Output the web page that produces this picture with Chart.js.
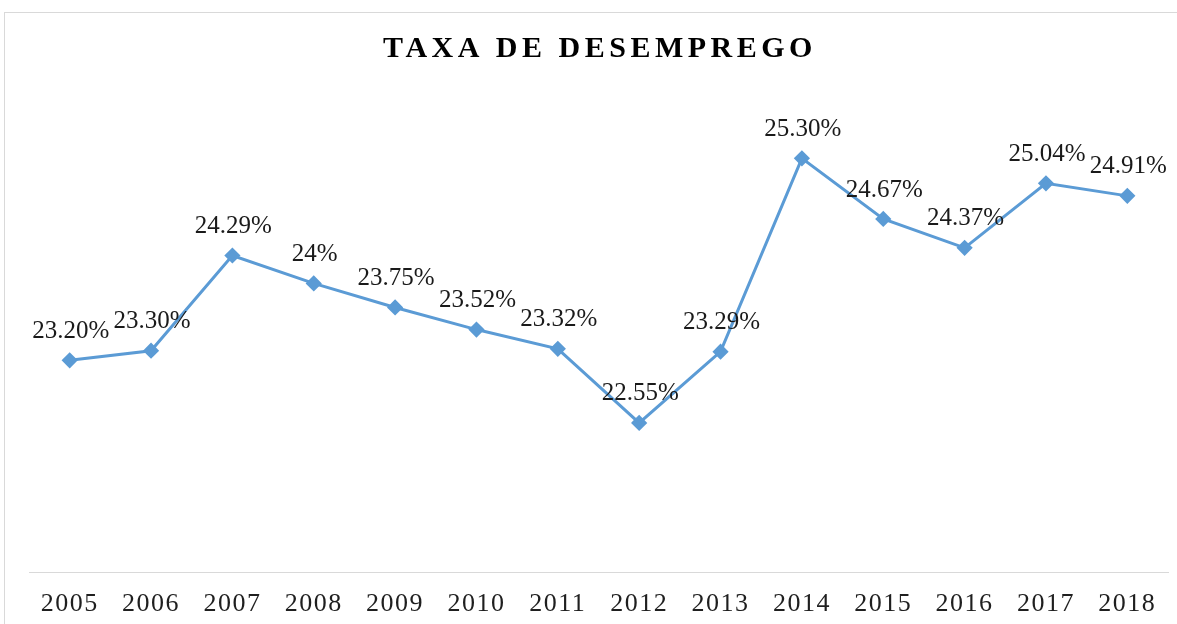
<!DOCTYPE html>
<html>
<head>
<meta charset="utf-8">
<script src="https://cdn.jsdelivr.net/npm/chart.js@4.4.1/dist/chart.umd.min.js"></script>
<style>
  html, body { margin: 0; padding: 0; background: #fff; }
  #wrap { width: 1177px; height: 624px; position: relative; }
</style>
</head>
<body>
<div id="wrap"><canvas id="c" width="1177" height="624"></canvas></div>
<script>
const titleText = "TAXA DE DESEMPREGO";
const years = ["2005","2006","2007","2008","2009","2010","2011","2012","2013","2014","2015","2016","2017","2018"];
const rates = [23.20, 23.30, 24.29, 24.00, 23.75, 23.52, 23.32, 22.55, 23.29, 25.30, 24.67, 24.37, 25.04, 24.91];
const rateLabels = ["23.20%","23.30%","24.29%","24%","23.75%","23.52%","23.32%","22.55%","23.29%","25.30%","24.67%","24.37%","25.04%","24.91%"];

const SERIF = '"Liberation Serif", "Times New Roman", serif';

const framePlugin = {
  id: 'frame',
  beforeDraw(chart) {
    const ctx = chart.ctx;
    ctx.save();
    ctx.strokeStyle = '#d9d9d9';
    ctx.lineWidth = 1;
    ctx.strokeRect(4.5, 12.5, 1400, 1000);
    ctx.restore();
    ctx.letterSpacing = '1.5px';
  },
  beforeDatasetsDraw(chart) {
    chart.ctx.letterSpacing = '0px';
  },
  afterDatasetsDraw(chart) {
    const ctx = chart.ctx;
    const meta = chart.getDatasetMeta(0);
    ctx.save();
    ctx.letterSpacing = '0px';
    ctx.font = '25px ' + SERIF;
    ctx.fillStyle = '#1a1a1a';
    ctx.textAlign = 'center';
    ctx.textBaseline = 'middle';
    meta.data.forEach((pt, i) => {
      ctx.fillText(rateLabels[i], pt.x + 1, pt.y - 29);
    });
    ctx.restore();
  },
  afterDraw(chart) {
    const ctx = chart.ctx;
    ctx.save();
    ctx.letterSpacing = '4.5px';
    ctx.font = 'bold 30px ' + SERIF;
    ctx.fillStyle = '#000';
    ctx.textAlign = 'center';
    ctx.textBaseline = 'middle';
    ctx.fillText(titleText, 600, 49);
    ctx.restore();
  }
};

new Chart(document.getElementById('c'), {
  type: 'line',
  data: {
    labels: years,
    datasets: [{
      data: rates,
      borderColor: '#5B9BD5',
      backgroundColor: '#5B9BD5',
      borderWidth: 3,
      pointStyle: 'rectRot',
      pointRadius: 6,
      pointHoverRadius: 6,
      tension: 0,
      fill: false
    }]
  },
  options: {
    responsive: false,
    animation: false,
    devicePixelRatio: 1,
    layout: { padding: { left: 29, right: 8, top: 91, bottom: 0 } },
    plugins: { legend: { display: false }, title: { display: false }, tooltip: { enabled: false } },
    scales: {
      x: {
        offset: true,
        grid: { display: false, drawTicks: false },
        border: { display: true, color: '#d9d9d9', width: 1 },
        ticks: { color: '#1f1f1f', font: { family: SERIF, size: 26 }, padding: 17, maxRotation: 0, autoSkip: false },
        afterFit(scale) { scale.height = 52; }
      },
      y: {
        display: false,
        min: 21,
        max: 26
      }
    }
  },
  plugins: [framePlugin]
});
</script>
</body>
</html>
